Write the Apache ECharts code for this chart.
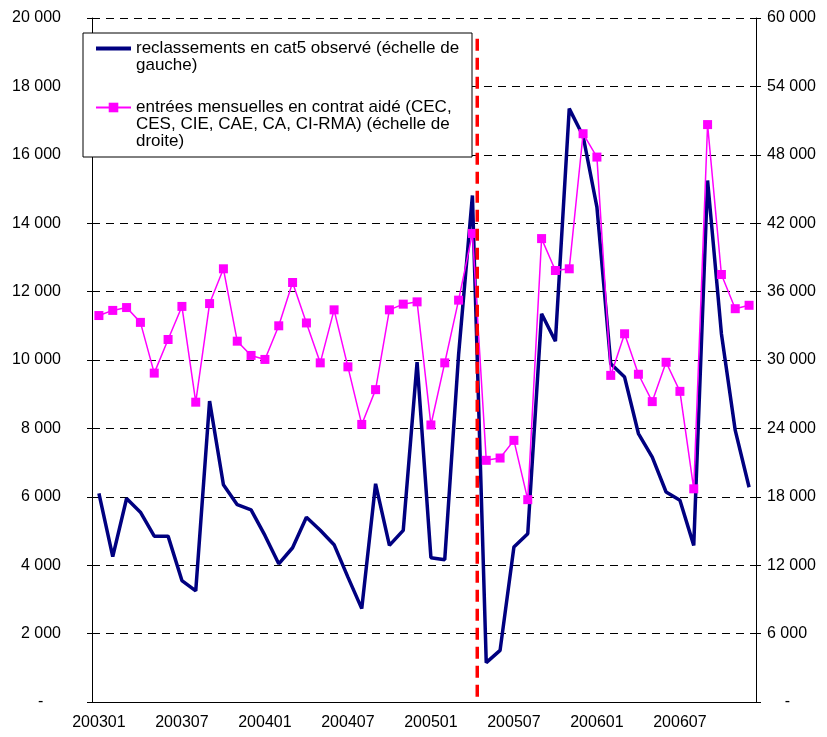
<!DOCTYPE html>
<html lang="fr">
<head>
<meta charset="UTF-8">
<title>Reclassements cat5 et contrats aidés</title>
<script src="https://cdn.jsdelivr.net/npm/echarts@6/dist/echarts.min.js"></script>
<style>
    html, body { margin: 0; padding: 0; background: #fff; }
    #main { width: 827px; height: 737px; }
</style>
</head>
<body>
<div id="main"></div>
<script type="text/javascript">
    var mois = [
        '200301', '200302', '200303', '200304', '200305', '200306', '200307', '200308', '200309', '200310', '200311', '200312',
        '200401', '200402', '200403', '200404', '200405', '200406', '200407', '200408', '200409', '200410', '200411', '200412',
        '200501', '200502', '200503', '200504', '200505', '200506', '200507', '200508', '200509', '200510', '200511', '200512',
        '200601', '200602', '200603', '200604', '200605', '200606', '200607', '200608', '200609', '200610', '200611', '200612'
    ];
    // echelle de gauche
    var reclassements = [
        6100, 4250, 5950, 5550, 4850, 4850, 3550, 3250, 8800, 6350, 5770, 5620,
        4870, 4040, 4510, 5400, 5020, 4600, 3650, 2730, 6380, 4580, 5020, 9940,
        4220, 4160, 10150, 14810, 1150, 1510, 4530, 4920, 11350, 10550, 17350, 16550,
        14470, 9890, 9500, 7850, 7160, 6140, 5900, 4580, 15250, 10770, 7940, 6280
    ];
    // echelle de droite
    var entreesAides = [
        33900, 34350, 34600, 33300, 28850, 31800, 34700, 26300, 34950, 38000, 31650, 30400,
        30050, 33000, 36800, 33250, 29750, 34400, 29400, 24350, 27400, 34400, 34900, 35100,
        24300, 29750, 35250, 41100, 21200, 21400, 22950, 17750, 40650, 37850, 38000, 49850,
        47800, 28650, 32300, 28750, 26350, 29800, 27250, 18700, 50650, 37500, 34500, 34800
    ];
    // trait vertical rouge (position en mois depuis 200301, bornes sur l'echelle de gauche)
    var ruptureMois = [27.85, 27.85];
    var ruptureY = [150, 19600];

    var nomReclass = 'reclassements en cat5 observé (échelle de gauche)';
    var nomAides = 'entrées mensuelles en contrat aidé (CEC, CES, CIE, CAE, CA, CI-RMA) (échelle de droite)';

    var police = 'Liberation Sans, Arial, sans-serif';

    function fmt(v) {
        if (v === 0) return '    -    ';
        return String(v).replace(/\B(?=(\d{3})+(?!\d))/g, ' ');
    }

    // lignes vides devant le texte : le symbole de legende reste sur la premiere ligne
    function legende(name) {
        return name === nomReclass ? '\n' + name : '\n\n' + name;
    }

    var myChart = echarts.init(document.getElementById('main'));
    var option = {
        animation: false,
        backgroundColor: '#fff',
        textStyle: { fontFamily: police },
        grid: { left: 92, right: 71, top: 18, bottom: 35 },
        legend: {
            orient: 'vertical',
            left: 83,
            top: 33,
            padding: [-10, -9, 7, 12],
            itemGap: -9,
            itemWidth: 35,
            itemHeight: 12,
            backgroundColor: '#fff',
            borderColor: '#000',
            borderWidth: 1,
            formatter: legende,
            textStyle: {
                color: '#000', fontFamily: police, fontSize: 17, lineHeight: 17,
                width: 345, overflow: 'break'
            },
            data: [
                { name: nomReclass, icon: 'path://M0,0H35V4H0Z' },
                { name: nomAides }
            ]
        },
        xAxis: [
            {
                type: 'category',
                data: mois,
                boundaryGap: true,
                axisLine: { lineStyle: { color: '#000', width: 1 } },
                axisTick: { interval: 5, length: 5, lineStyle: { color: '#000' } },
                axisLabel: { interval: 5, margin: 13, color: '#000', fontSize: 16, fontFamily: police }
            },
            {
                type: 'value',
                min: 0,
                max: 48,
                show: false
            }
        ],
        yAxis: [
            {
                type: 'value',
                min: 0,
                max: 20000,
                interval: 2000,
                axisLine: { show: true, lineStyle: { color: '#000' } },
                axisTick: { show: true, length: 5, lineStyle: { color: '#000' } },
                axisLabel: { formatter: fmt, margin: 31, color: '#000', fontSize: 16, fontFamily: police },
                splitLine: { show: true, lineStyle: { color: '#000', width: 1, type: [8, 6] } }
            },
            {
                type: 'value',
                position: 'right',
                min: 0,
                max: 60000,
                interval: 6000,
                axisLine: { show: true, lineStyle: { color: '#000' } },
                axisTick: { show: true, length: 5, lineStyle: { color: '#000' } },
                axisLabel: { formatter: fmt, margin: 11, color: '#000', fontSize: 16, fontFamily: police },
                splitLine: { show: false }
            }
        ],
        series: [
            {
                name: nomReclass,
                type: 'line',
                xAxisIndex: 0,
                yAxisIndex: 0,
                data: reclassements,
                symbol: 'none',
                lineStyle: { color: '#000080', width: 3.5 },
                itemStyle: { color: '#000080' },
                z: 3
            },
            {
                name: nomAides,
                type: 'line',
                xAxisIndex: 0,
                yAxisIndex: 1,
                data: entreesAides,
                symbol: 'rect',
                symbolSize: 9,
                lineStyle: { color: '#FF00FF', width: 1.5 },
                itemStyle: { color: '#FF00FF' },
                z: 4
            },
            {
                name: 'rupture',
                type: 'line',
                xAxisIndex: 1,
                yAxisIndex: 0,
                data: ruptureMois.map(function (m, i) { return [m, ruptureY[i]]; }),
                symbol: 'none',
                silent: true,
                lineStyle: { color: '#FF0000', width: 3.5, type: [12, 7] },
                z: 5
            }
        ]
    };
    myChart.setOption(option);
</script>
</body>
</html>
